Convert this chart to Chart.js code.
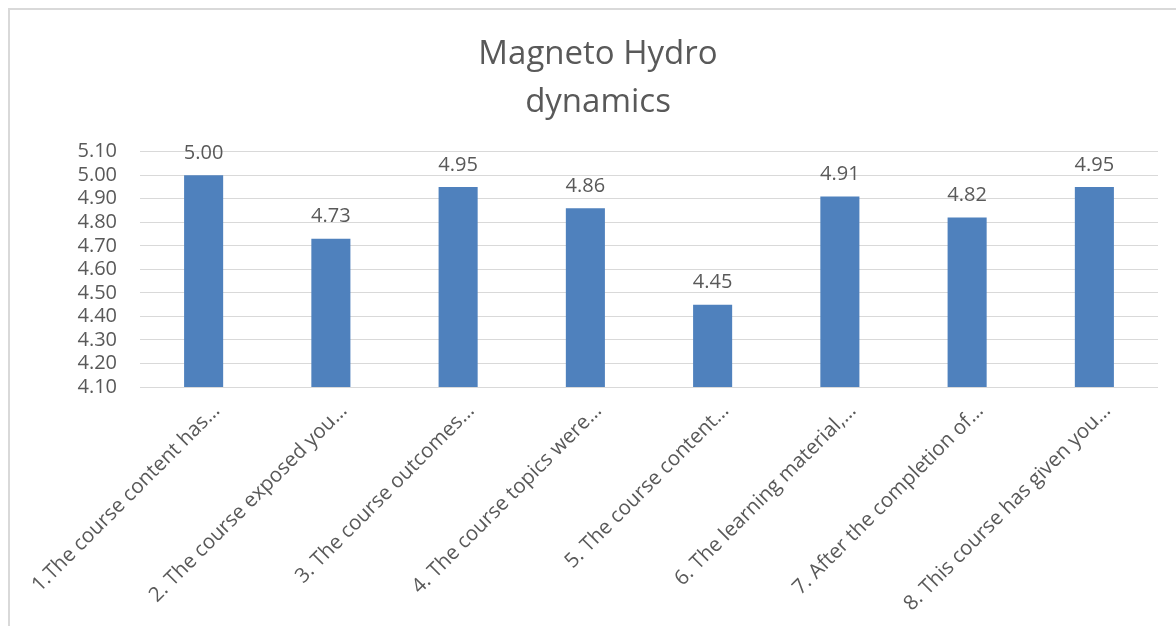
<!DOCTYPE html>
<html>
<head>
<meta charset="utf-8">
<script src="https://cdn.jsdelivr.net/npm/chart.js@4"></script>
<style>
    body { margin: 0; background: #fff; }
    #marco {
        position: absolute; left: 8px; top: 8px;
        width: 1168px; height: 618px;
        border-left: 2px solid #d9d9d9; border-top: 2px solid #d9d9d9;
    }
    #grafico { display: block; }
</style>
</head>
<body>
<div id="marco"><canvas id="grafico" width="1166" height="616"></canvas></div>
<script>
const titulo = ['Magneto Hydro', 'dynamics'];
const categorias = [
    '1.The course content has…',
    '2. The course exposed you…',
    '3. The course outcomes…',
    '4. The course topics were…',
    '5. The course content…',
    '6. The learning material,…',
    '7. After the completion of…',
    '8. This course has given you…'
];
const valores = [5.00, 4.73, 4.95, 4.86, 4.45, 4.91, 4.82, 4.95];
const ejeMin = 4.10;
const ejeMax = 5.10;
const paso = 0.10;

const colorTexto = '#595959';
const fuente = "'Open Sans', 'Noto Sans', sans-serif";

// etiquetas de valor encima de cada barra
const etiquetasValor = {
    id: 'etiquetasValor',
    afterDatasetsDraw(chart) {
        const ctx = chart.ctx;
        const meta = chart.getDatasetMeta(0);
        ctx.save();
        ctx.fillStyle = colorTexto;
        ctx.font = '20px ' + fuente;
        ctx.textAlign = 'center';
        ctx.textBaseline = 'bottom';
        meta.data.forEach((barra, i) => {
            ctx.fillText(valores[i].toFixed(2), barra.x, barra.y - 12);
        });
        ctx.restore();
    }
};

new Chart(document.getElementById('grafico'), {
    type: 'bar',
    data: {
        labels: categorias,
        datasets: [{
            data: valores,
            backgroundColor: '#4f81bd',
            borderWidth: 0,
            barPercentage: 0.614,
            categoryPercentage: 0.5
        }]
    },
    options: {
        responsive: false,
        animation: false,
        layout: { padding: { left: 10, right: 0, top: 0, bottom: 0 } },
        plugins: {
            legend: { display: false },
            tooltip: { enabled: false },
            title: {
                display: true,
                text: titulo,
                color: colorTexto,
                font: { family: fuente, size: 33, weight: 'normal', lineHeight: 1.45 },
                padding: { top: 21, bottom: 25 }
            }
        },
        scales: {
            x: {
                grid: { display: false, drawTicks: false },
                border: { display: false },
                ticks: {
                    color: colorTexto,
                    font: { family: fuente, size: 20.5 },
                    minRotation: 45,
                    maxRotation: 45,
                    autoSkip: false,
                    padding: 12,
                    labelOffset: 13
                },
                afterFit: (s) => {
                    s.height = 239;
                    s.paddingLeft = 0;
                    s.paddingRight = 0;
                }
            },
            y: {
                min: ejeMin,
                max: ejeMax,
                grid: { color: '#d9d9d9', lineWidth: 1, drawTicks: false },
                border: { display: false },
                ticks: {
                    stepSize: paso,
                    autoSkip: false,
                    color: colorTexto,
                    font: { family: fuente, size: 20 },
                    padding: 23,
                    callback: (v) => v.toFixed(2)
                },
                afterFit: (s) => { s.width = 120; }
            },
            derecha: {
                position: 'right',
                grid: { display: false, drawTicks: false },
                border: { display: false },
                ticks: { display: false },
                afterFit: (s) => { s.width = 18; }
            }
        }
    },
    plugins: [etiquetasValor]
});
</script>
</body>
</html>
